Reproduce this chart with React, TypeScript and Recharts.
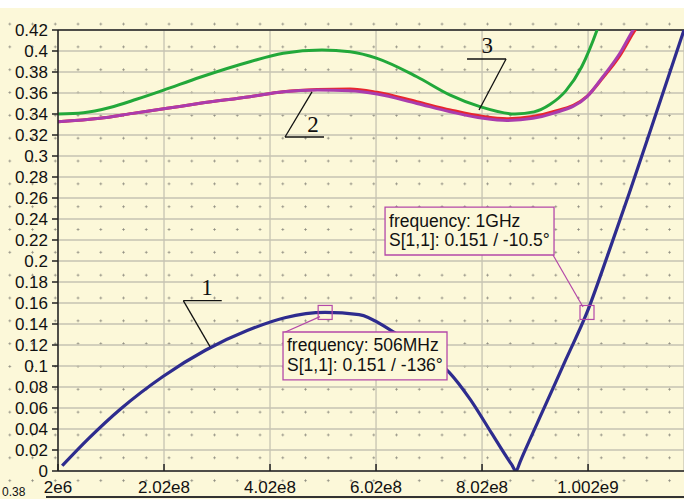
import React from "react";
import {
  LineChart,
  Line,
  XAxis,
  YAxis,
  CartesianGrid,
  ReferenceLine,
  ReferenceArea,
  ReferenceDot,
} from "recharts";

const MHZ = 1e6;

// x axis (Hz) and y axis ticks
const xTicks = [2e6, 2.02e8, 4.02e8, 6.02e8, 8.02e8, 1.002e9];
const xTickLabels = ["2e6", "2.02e8", "4.02e8", "6.02e8", "8.02e8", "1.002e9"];
const yTicks = [
  0, 0.02, 0.04, 0.06, 0.08, 0.1, 0.12, 0.14, 0.16, 0.18, 0.2, 0.22, 0.24,
  0.26, 0.28, 0.3, 0.32, 0.34, 0.36, 0.38, 0.4, 0.42,
];
const yTickLabels = [
  "0", "0.02", "0.04", "0.06", "0.08", "0.1", "0.12", "0.14", "0.16", "0.18",
  "0.2", "0.22", "0.24", "0.26", "0.28", "0.3", "0.32", "0.34", "0.36", "0.38",
  "0.4", "0.42",
];

// curve 1 (navy)
const c1Freq = [10, 60, 120, 200, 280, 360, 430, 506, 570, 630, 690, 740, 780, 820, 850, 858, 866, 874, 880, 920, 960, 1000, 1040, 1080, 1130, 1183, 1200];
const c1Val = [0.005, 0.031, 0.059, 0.09, 0.115, 0.134, 0.146, 0.151, 0.149, 0.134, 0.114, 0.094, 0.068, 0.036, 0.012, 0.006, 0.0, 0.009, 0.016, 0.061, 0.106, 0.151, 0.207, 0.265, 0.34, 0.42, 0.446];

// curve 2 (magenta) and its red twin
const c2Freq = [2, 81, 143, 208, 270, 364, 427, 491, 553, 604, 679, 742, 804, 849, 898, 936, 1000, 1030, 1062, 1087, 1100];
const c2Val = [0.3327, 0.3359, 0.3406, 0.3454, 0.3502, 0.3565, 0.3612, 0.3629, 0.3622, 0.359, 0.35, 0.3422, 0.3359, 0.3338, 0.3359, 0.3406, 0.3565, 0.3755, 0.3978, 0.42, 0.43];
const c2RedVal = [0.3327, 0.3359, 0.3406, 0.3454, 0.3502, 0.3565, 0.3612, 0.3633, 0.3639, 0.3607, 0.3517, 0.3439, 0.3376, 0.3355, 0.3376, 0.3421, 0.3568, 0.3745, 0.3955, 0.417, 0.427];

// curve 3 (green)
const c3Freq = [2, 50, 100, 150, 200, 270, 364, 427, 500, 553, 604, 679, 742, 798, 864, 900, 930, 960, 990, 1019, 1030];
const c3Val = [0.34, 0.3412, 0.3462, 0.354, 0.3625, 0.375, 0.3898, 0.3978, 0.401, 0.3993, 0.393, 0.3755, 0.358, 0.347, 0.34, 0.342, 0.349, 0.362, 0.385, 0.42, 0.436];

// curve number labels: text position, leader (horizontal + diagonal), in MHz / value
const curveLabels = [
  { text: "1", f: 283, v: 0.1676, h: [238.4, 310.9, 0.1622], d: [288.8, 0.1184] },
  { text: "2", f: 483, v: 0.3229, h: [430.3, 503.9, 0.3181], d: [481.2, 0.361] },
  { text: "3", f: 811.6, v: 0.3981, h: [773.7, 847.3, 0.3924], d: [796.3, 0.3438] },
];

// marker readouts
const markerFreq = [506, 1000];
const markerVal = [0.151, 0.151];
const boxText = [
  ["frequency: 506MHz", "S[1,1]: 0.151 / -136°"],
  ["frequency: 1GHz", "S[1,1]: 0.151 / -10.5°"],
];
const boxF = [[426.5, 735.9], [619, 937.8]];
const boxV = [[0.0867, 0.1324], [0.2057, 0.2514]];
const leaders = [
  [429.8, 0.1321, 496.3, 0.147],
  [935.9, 0.2057, 992.5, 0.1562],
];

const toData = (fs: number[], vs: number[]) => fs.map((f, i) => ({ f: f * MHZ, v: vs[i] }));
const curve1 = toData(c1Freq, c1Val);
const curve2 = toData(c2Freq, c2Val);
const curve2red = toData(c2Freq, c2RedVal);
const curve3 = toData(c3Freq, c3Val);

const FONT = "Arial, 'Liberation Sans', sans-serif";
const CREAM = "#fcf8d9";
const BOX = "#b448a8";

const XTick = (props: any) => {
  const { x, y, payload } = props;
  const i = xTicks.indexOf(payload.value);
  return (
    <g>
      <line x1={x} y1={y} x2={x} y2={y - 7} stroke="#222" strokeWidth={1.5} />
      <text x={x} y={y + 22} textAnchor="middle" fontSize={17} fontFamily={FONT} fill="#111">
        {i >= 0 ? xTickLabels[i] : ""}
      </text>
    </g>
  );
};

const BoxLabel = (props: any) => {
  const { viewBox, lines } = props;
  if (!viewBox) return null;
  return (
    <g>
      <text x={viewBox.x + 4} y={viewBox.y + 19.5} fontSize={17.5} fontFamily={FONT} fill="#111">
        {lines[0]}
      </text>
      <text x={viewBox.x + 4} y={viewBox.y + 39} fontSize={17.5} fontFamily={FONT} fill="#111">
        {lines[1]}
      </text>
    </g>
  );
};

export default function App() {
  return (
    <div
      style={{
        position: "absolute",
        left: 0,
        top: 0,
        width: 684,
        height: 499,
        overflow: "hidden",
        backgroundColor: CREAM,
        backgroundImage: "radial-gradient(circle, #8e8c80 0.8px, rgba(0,0,0,0) 1.4px)",
        backgroundSize: "22.75px 22.84px",
        backgroundPosition: "-1.6px -10.2px",
        fontFamily: FONT,
      }}
    >
      <div style={{ position: "absolute", left: 0, top: 0, width: 684, height: 8, background: "#fff" }} />
      {/* top edge of the next chart below */}
      <div style={{ position: "absolute", left: 46, top: 496, width: 640, height: 1.5, background: "#333" }} />
      <div style={{ position: "absolute", left: 2, top: 486, fontSize: 12, lineHeight: "12px", color: "#111" }}>0.38</div>
      <LineChart
        width={684}
        height={499}
        margin={{ top: 30, right: 0, bottom: 0, left: 0 }}
        style={{ position: "absolute", left: 0, top: 0 }}
      >
        <CartesianGrid stroke="#c6c3b2" strokeWidth={1.3} />
        <XAxis
          dataKey="f"
          type="number"
          domain={[2e6, 1.183e9]}
          allowDataOverflow
          ticks={xTicks}
          interval={0}
          height={28}
          tickLine={false}
          tickSize={0}
          tickMargin={0}
          tick={<XTick />}
          axisLine={{ stroke: "#222", strokeWidth: 1.5 }}
        />
        <YAxis
          type="number"
          domain={[0, 0.42]}
          allowDataOverflow
          ticks={yTicks}
          interval={0}
          width={58}
          tickSize={6}
          tickMargin={4}
          tickFormatter={(v: number) => yTickLabels[yTicks.indexOf(v)] ?? String(v)}
          tick={{ fill: "#111", fontSize: 17, fontFamily: FONT }}
          tickLine={{ stroke: "#222", strokeWidth: 1.5 }}
          axisLine={{ stroke: "#222", strokeWidth: 1.5 }}
        />
        <ReferenceLine y={0.42} stroke="#222" strokeWidth={1.5} />
        <Line data={curve3} dataKey="v" type="monotone" stroke="#22a83a" strokeWidth={3} dot={false} isAnimationActive={false} />
        <Line data={curve2red} dataKey="v" type="monotone" stroke="#e8262e" strokeWidth={3} dot={false} isAnimationActive={false} />
        <Line data={curve2} dataKey="v" type="monotone" stroke="#aa3cae" strokeWidth={3} dot={false} isAnimationActive={false} />
        <Line data={curve1} dataKey="v" type="monotone" stroke="#2e2c8e" strokeWidth={3.2} dot={false} isAnimationActive={false} />

        {curveLabels.map((c) => (
          <ReferenceLine
            key={"h" + c.text}
            segment={[{ x: c.h[0] * MHZ, y: c.h[2] }, { x: c.h[1] * MHZ, y: c.h[2] }]}
            stroke="#111"
            strokeWidth={1.3}
          />
        ))}
        {curveLabels.map((c) => (
          <ReferenceLine
            key={"d" + c.text}
            segment={[
              { x: (c.text === "3" ? c.h[1] : c.h[0]) * MHZ, y: c.h[2] },
              { x: c.d[0] * MHZ, y: c.d[1] },
            ]}
            stroke="#111"
            strokeWidth={1.3}
          />
        ))}
        {curveLabels.map((c) => (
          <ReferenceDot
            key={"t" + c.text}
            x={c.f * MHZ}
            y={c.v}
            r={0}
            shape={(p: any) => (
              <text x={p.cx} y={p.cy} textAnchor="middle" fontSize={23} fontFamily="'Liberation Serif', 'Times New Roman', serif" fill="#111">
                {c.text}
              </text>
            )}
          />
        ))}

        {leaders.map((l, i) => (
          <ReferenceLine
            key={"l" + i}
            segment={[{ x: l[0] * MHZ, y: l[1] }, { x: l[2] * MHZ, y: l[3] }]}
            stroke={BOX}
            strokeWidth={1.2}
          />
        ))}
        {markerFreq.map((f, i) => (
          <ReferenceDot
            key={"m" + i}
            x={f * MHZ}
            y={markerVal[i]}
            r={7}
            shape={(p: any) => (
              <rect x={p.cx - 7} y={p.cy - 7} width={14} height={14} fill="none" stroke={BOX} strokeWidth={1.2} />
            )}
          />
        ))}
        {boxText.map((lines, i) => (
          <ReferenceArea
            key={"b" + i}
            x1={boxF[i][0] * MHZ}
            x2={boxF[i][1] * MHZ}
            y1={boxV[i][0]}
            y2={boxV[i][1]}
            fill={CREAM}
            fillOpacity={1}
            stroke={BOX}
            strokeWidth={1.3}
            zIndex={1500}
            label={(p: any) => <BoxLabel {...p} lines={lines} />}
          />
        ))}
      </LineChart>
    </div>
  );
}
